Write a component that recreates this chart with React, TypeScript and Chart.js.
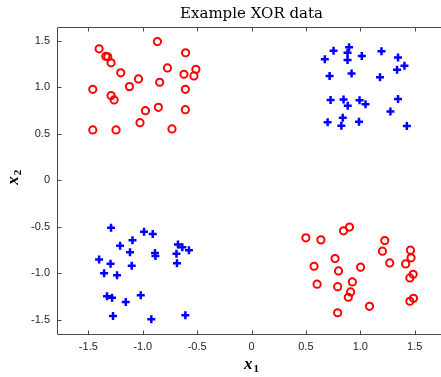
import React, { useEffect, useRef } from "react";
import { Chart, registerables } from "chart.js";

Chart.register(...registerables);

const TITLE = "Example XOR data";
const X_LABEL = ["x", "1"];
const Y_LABEL = ["x", "2"];
const X_TICKS = [-1.5, -1, -0.5, 0, 0.5, 1, 1.5];
const Y_TICKS = [-1.5, -1, -0.5, 0, 0.5, 1, 1.5];
const X_RANGE = [-1.788, 1.788];
const Y_RANGE = [-1.645, 1.645];

// class A (red circles): top-left and bottom-right
const RED_X = [
  -1.401, -1.339, -1.321, -1.291, -1.202, -1.039, -1.122, -0.865, -0.606, -0.773, -0.511, -0.621, -0.529,
  -0.844, -0.608, -1.459, -1.291, -1.263, -0.975, -0.856, -0.608, -1.025, -1.459, -1.245, -0.731,
  0.5, 0.638, 0.846, 0.901, 1.225, 1.204, 1.271, 1.461, 1.467, 1.417, 0.768, 0.575, 0.8, 1.003, 0.927,
  0.603, 0.792, 0.911, 0.89, 1.486, 1.456, 1.085, 0.792, 1.489, 1.456,
];
const RED_Y = [
  1.411, 1.331, 1.325, 1.26, 1.153, 1.088, 1.005, 1.489, 1.368, 1.206, 1.191, 1.138, 1.12,
  1.052, 0.976, 0.976, 0.909, 0.862, 0.747, 0.783, 0.758, 0.618, 0.54, 0.54, 0.551,
  -0.618, -0.64, -0.543, -0.503, -0.647, -0.761, -0.887, -0.751, -0.833, -0.898, -0.841, -0.923, -0.973, -0.933, -1.091,
  -1.116, -1.142, -1.199, -1.256, -1.009, -1.048, -1.353, -1.422, -1.267, -1.299,
];

// class B (blue pluses): top-right and bottom-left
const BLUE_X = [
  0.754, 0.897, 0.883, 0.674, 0.883, 1.014, 1.195, 1.347, 1.406, 1.338, 0.718, 0.92, 1.181,
  0.727, 0.846, 0.885, 0.993, 1.048, 1.347, 1.277, 0.839, 0.7, 0.826, 0.988, 1.428,
  -1.291, -0.988, -0.908, -1.094, -1.208, -1.117, -0.887, -0.883, -0.676, -0.636, -0.575, -0.69, -0.685,
  -1.401, -1.296, -1.101, -1.355, -1.236, -1.328, -1.282, -1.156, -1.018, -1.273, -0.921, -0.608,
];
const BLUE_Y = [
  1.389, 1.428, 1.368, 1.299, 1.292, 1.335, 1.385, 1.317, 1.228, 1.185, 1.12, 1.145, 1.105,
  0.862, 0.866, 0.801, 0.858, 0.815, 0.873, 0.737, 0.672, 0.622, 0.586, 0.629, 0.583,
  -0.511, -0.554, -0.578, -0.643, -0.704, -0.772, -0.78, -0.812, -0.69, -0.718, -0.751, -0.79, -0.89,
  -0.852, -0.895, -0.919, -0.998, -1.019, -1.245, -1.26, -1.306, -1.234, -1.457, -1.492, -1.449,
];

const AXIS_COLOR = "#4a4a4a";
const TEXT_COLOR = "#262626";

const decorPlugin = {
  id: "decor",
  afterDraw(chart: any) {
    const { ctx, chartArea } = chart;
    const xs = chart.scales.x;
    const ys = chart.scales.y;
    const { left, right, top, bottom } = chartArea;
    ctx.save();
    // box
    ctx.strokeStyle = AXIS_COLOR;
    ctx.lineWidth = 1;
    ctx.beginPath();
    const L = Math.round(left) + 0.5;
    const R = Math.round(right) + 0.5;
    const T = Math.round(top) + 0.5;
    const B = Math.round(bottom) + 0.5;
    ctx.moveTo(L, T);
    ctx.lineTo(R, T);
    ctx.lineTo(R, B);
    ctx.lineTo(L, B);
    ctx.closePath();
    ctx.stroke();
    // inside ticks
    const tl = 4;
    ctx.beginPath();
    X_TICKS.forEach((v) => {
      const px = Math.round(xs.getPixelForValue(v)) + 0.5;
      ctx.moveTo(px, B);
      ctx.lineTo(px, B - tl);
      ctx.moveTo(px, T);
      ctx.lineTo(px, T + tl);
    });
    Y_TICKS.forEach((v) => {
      const py = Math.round(ys.getPixelForValue(v)) + 0.5;
      ctx.moveTo(L, py);
      ctx.lineTo(L + tl, py);
      ctx.moveTo(R, py);
      ctx.lineTo(R - tl, py);
    });
    ctx.stroke();

    // title
    ctx.fillStyle = "#000";
    ctx.textAlign = "center";
    ctx.textBaseline = "alphabetic";
    ctx.font = "15px 'DejaVu Serif'";
    ctx.fillText(TITLE, (left + right) / 2, 18);

    // x label
    const drawMath = (parts: string[]) => {
      ctx.font = "bold italic 17px 'Liberation Serif'";
      const w1 = ctx.measureText(parts[0]).width;
      ctx.font = "bold 11px 'Liberation Serif'";
      const w2 = ctx.measureText(parts[1]).width;
      const total = w1 + w2 + 1;
      ctx.textAlign = "left";
      ctx.font = "bold italic 17px 'Liberation Serif'";
      ctx.fillText(parts[0], -total / 2, 0);
      ctx.font = "bold 11px 'Liberation Serif'";
      ctx.fillText(parts[1], -total / 2 + w1 + 1, 3);
    };
    ctx.save();
    ctx.translate((left + right) / 2, 369);
    drawMath(X_LABEL);
    ctx.restore();
    ctx.save();
    ctx.translate(18, (top + bottom) / 2 - 3);
    ctx.rotate(-Math.PI / 2);
    drawMath(Y_LABEL);
    ctx.restore();
    ctx.restore();
  },
};

export default function App() {
  const ref = useRef<HTMLCanvasElement | null>(null);
  useEffect(() => {
    if (!ref.current) return;
    const red = RED_X.map((x, i) => ({ x, y: RED_Y[i] }));
    const blue = BLUE_X.map((x, i) => ({ x, y: BLUE_Y[i] }));
    const chart = new Chart(ref.current, {
      type: "scatter",
      data: {
        datasets: [
          {
            data: red,
            pointStyle: "circle",
            pointRadius: 3.6,
            pointBorderWidth: 2,
            borderColor: "#ff0000",
            backgroundColor: "rgba(0,0,0,0)",
            pointBackgroundColor: "rgba(0,0,0,0)",
            pointBorderColor: "#ff0000",
          },
          {
            data: blue,
            pointStyle: "cross",
            pointRadius: 4,
            pointBorderWidth: 2.5,
            borderColor: "#0000ff",
            pointBorderColor: "#0000ff",
            backgroundColor: "#0000ff",
          },
        ],
      },
      options: {
        animation: false,
        responsive: false,
        events: [],
        layout: { padding: { left: 0, right: 24, top: 27, bottom: 0 } },
        plugins: { legend: { display: false }, tooltip: { enabled: false }, title: { display: false } },
        scales: {
          x: {
            type: "linear",
            min: X_RANGE[0],
            max: X_RANGE[1],
            grid: { display: false, drawTicks: false },
            border: { display: false },
            afterBuildTicks: (s: any) => {
              s.ticks = X_TICKS.map((v) => ({ value: v }));
            },
            afterFit: (s: any) => {
              s.height = 43.5;
            },
            ticks: {
              color: TEXT_COLOR,
              font: { family: "'Liberation Sans'", size: 11 },
              padding: 7,
              maxRotation: 0,
              autoSkip: false,
            },
          },
          y: {
            type: "linear",
            min: Y_RANGE[0],
            max: Y_RANGE[1],
            grid: { display: false, drawTicks: false },
            border: { display: false },
            afterBuildTicks: (s: any) => {
              s.ticks = Y_TICKS.map((v) => ({ value: v }));
            },
            afterFit: (s: any) => {
              s.width = 57;
            },
            ticks: {
              color: TEXT_COLOR,
              font: { family: "'Liberation Sans'", size: 11 },
              padding: 7,
              autoSkip: false,
            },
          },
        },
      },
      plugins: [decorPlugin],
    });
    return () => chart.destroy();
  }, []);
  return (
    <div style={{ position: "fixed", left: 0, top: 0, width: 441, height: 377, overflow: "hidden", background: "#fff" }}>
      <canvas ref={ref} width={470} height={377} style={{ display: "block" }} />
    </div>
  );
}
